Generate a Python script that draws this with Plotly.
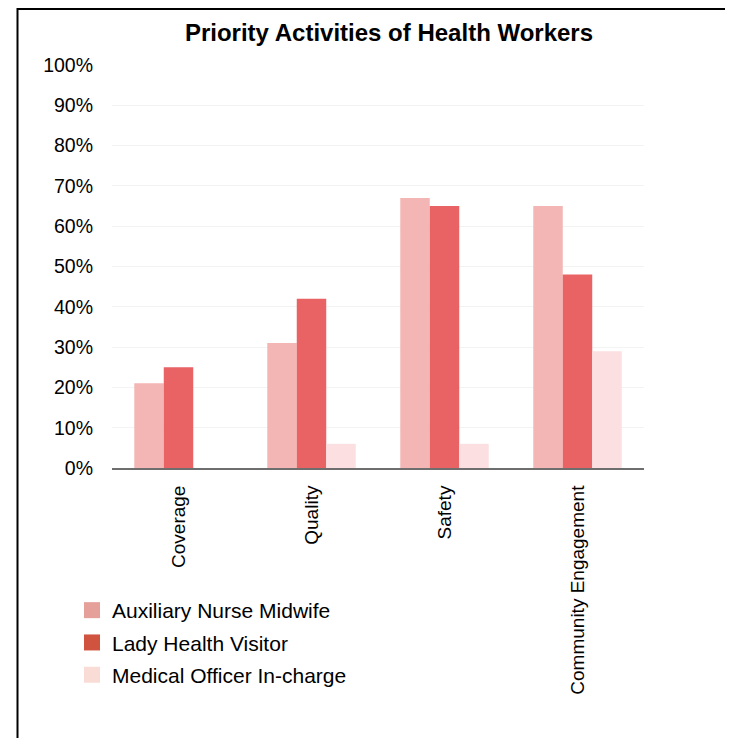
import plotly.graph_objects as go

categories = ["Coverage", "Quality", "Safety", "Community Engagement"]
series_names = ["Auxiliary Nurse Midwife", "Lady Health Visitor", "Medical Officer In-charge"]
anm_values = [21, 31, 67, 65]
lhv_values = [25, 42, 65, 48]
mo_values = [0, 6, 6, 29]
y_tick_vals = [0, 10, 20, 30, 40, 50, 60, 70, 80, 90, 100]
y_tick_text = [f"{v}%" for v in y_tick_vals]

bar_colors = ["#F4B5B5", "#E96264", "#FBDFE1"]
legend_colors = ["#E5A09A", "#CF533F", "#FADCD7"]

FONT = "Liberation Sans, Arial, Helvetica, sans-serif"

# page body has an 8px margin; work in reference pixels and shift
OFF = 8
W, H = 725, 730
L, R, T, B = 112 - OFF, (W + OFF) - 644, 65 - OFF, (H + OFF) - 468
pw, ph = W - L - R, H - T - B

def px2x(px):
    return (px - OFF - L) / pw

def py2y(py):
    return (H - B - (py - OFF)) / ph

fig = go.Figure()
for name, vals, col in zip(series_names, [anm_values, lhv_values, mo_values], bar_colors):
    fig.add_trace(go.Bar(x=categories, y=vals, name=name, marker=dict(color=col, line=dict(width=0)),
                         showlegend=False))
for i, (name, col) in enumerate(zip(series_names, legend_colors)):
    fig.add_trace(go.Scatter(x=[None], y=[None], mode="markers", name=name, legendgroup=f"g{i}",
                             marker=dict(symbol="square", size=16, color=col)))

fig.add_shape(type="rect", xref="paper", yref="paper",
              x0=px2x(17.5), x1=px2x(760), y0=py2y(760), y1=py2y(9),
              line=dict(color="black", width=2), fillcolor="rgba(0,0,0,0)", layer="above")

fig.update_layout(
    width=W, height=H,
    margin=dict(l=L, r=R, t=T, b=B),
    paper_bgcolor="white", plot_bgcolor="white",
    font=dict(family=FONT, size=18, color="black"),
    title=dict(text="<b>Priority Activities of Health Workers</b>", x=(389 - OFF) / W, xanchor="center",
               y=1 - (33 - OFF) / H, yanchor="middle", font=dict(size=24, family=FONT, color="black")),
    barmode="group", bargap=0.335, bargroupgap=0,
    legend=dict(x=px2x(72), xanchor="left", y=py2y(590), yanchor="top",
                font=dict(size=21, family=FONT, color="black"),
                bgcolor="rgba(0,0,0,0)", tracegroupgap=2),
    showlegend=True,
)
fig.update_xaxes(type="category", tickangle=-90, showline=True, linecolor="#6E6E6E", linewidth=2,
                 showgrid=False, ticks="", ticklabelstandoff=8, tickfont=dict(size=19))
fig.update_yaxes(range=[0, 100], tickvals=y_tick_vals, ticktext=y_tick_text, showgrid=True,
                 gridcolor="#F3F3F3", gridwidth=1, zeroline=False, showline=False, ticks="",
                 ticklabelstandoff=18, tickfont=dict(size=19.5))

fig.write_html("out.html")
